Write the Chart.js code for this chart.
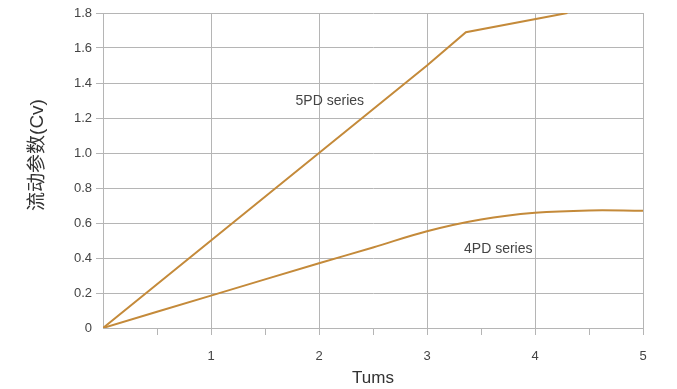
<!DOCTYPE html>
<html>
<head>
<meta charset="utf-8">
<script src="https://cdn.jsdelivr.net/npm/chart.js@4"></script>
<style>
    html, body { margin: 0; padding: 0; background: #fff; }
    #wrap { width: 677px; height: 389px; }
</style>
</head>
<body>
<div id="wrap"><canvas id="cvChart" width="677" height="389"></canvas></div>
<script>
// Turns vs flow coefficient
const turns5PD = [0, 1, 2, 3, 3.36, 4.3];
const cv5PD = [0, 0.5, 1.0, 1.5, 1.69, 1.8];

const turns4PD = [0, 1, 2, 2.5, 3, 3.5, 4, 4.5, 5];
const cv4PD = [0, 0.185, 0.37, 0.46, 0.553, 0.62, 0.658, 0.672, 0.67];

const xTickLabels = [1, 2, 3, 4, 5];
const yAxisTitle = '流动参数(Cv)';
const xAxisTitle = 'Tums';

// series labels placed in data coordinates
const seriesLabels = [
    { text: '5PD series', x: 2.1, y: 1.295 },
    { text: '4PD series', x: 3.66, y: 0.451 }
];

const FONT = "'Liberation Sans', Arial, 'Noto Sans CJK SC', sans-serif";
const GRID = '#b5b5b5';
const LINE = '#c48a3a';

function toPoints(xs, ys) {
    return xs.map((x, i) => ({ x: x, y: ys[i] }));
}

const labelPlugin = {
    id: 'labels',
    afterDraw(chart) {
        const ctx = chart.ctx;
        const xs = chart.scales.x;
        const ys = chart.scales.y;
        ctx.save();
        ctx.fillStyle = '#444';
        ctx.font = '14px ' + FONT;
        ctx.textAlign = 'center';
        ctx.textBaseline = 'middle';
        seriesLabels.forEach(l => {
            ctx.fillText(l.text, xs.getPixelForValue(l.x), ys.getPixelForValue(l.y));
        });

        // y axis title, sits a bit above the middle like the original
        ctx.translate(38, 155);
        ctx.rotate(-Math.PI / 2);
        ctx.font = '19px ' + FONT;
        ctx.fillStyle = '#333';
        ctx.fillText(yAxisTitle, 0, 0);
        ctx.restore();
    }
};

const seriesStyle = {
    borderColor: LINE,
    borderWidth: 2,
    pointRadius: 0,
    fill: false
};

new Chart(document.getElementById('cvChart').getContext('2d'), {
    type: 'line',
    data: {
        datasets: [
            { ...seriesStyle, label: '5PD series', data: toPoints(turns5PD, cv5PD), tension: 0 },
            { ...seriesStyle, label: '4PD series', data: toPoints(turns4PD, cv4PD), tension: 0.4 }
        ]
    },
    options: {
        responsive: false,
        animation: false,
        layout: { padding: { top: 13, right: 34, left: 0, bottom: 0 } },
        plugins: {
            legend: { display: false },
            tooltip: { enabled: false }
        },
        scales: {
            x: {
                type: 'linear',
                min: 0,
                max: 5,
                afterFit(scale) { scale.height = 61; },
                border: { color: GRID },
                grid: {
                    color: ctx => (ctx.tick && Number.isInteger(ctx.tick.value)) ? GRID : 'rgba(0,0,0,0)',
                    tickColor: ctx => (ctx.tick && ctx.tick.value === 0) ? 'rgba(0,0,0,0)' : GRID,
                    tickLength: 7
                },
                ticks: {
                    stepSize: 0.5,
                    autoSkip: false,
                    maxRotation: 0,
                    padding: 14,
                    color: '#444',
                    font: { family: FONT, size: 13 },
                    callback: v => xTickLabels.includes(v) ? String(v) : ''
                },
                title: {
                    display: true,
                    text: xAxisTitle,
                    color: '#333',
                    font: { family: FONT, size: 17 },
                    padding: { top: 0, bottom: 0 }
                }
            },
            y: {
                min: 0,
                max: 1.8,
                afterFit(scale) { scale.width = 103; },
                border: { color: GRID },
                grid: {
                    color: GRID,
                    tickColor: ctx => (ctx.tick && ctx.tick.value === 0) ? 'rgba(0,0,0,0)' : GRID,
                    tickLength: 7
                },
                ticks: {
                    stepSize: 0.2,
                    padding: 4,
                    color: '#444',
                    font: { family: FONT, size: 13 },
                    callback: v => v === 0 ? '0' : v.toFixed(1)
                }
            }
        }
    },
    plugins: [labelPlugin]
});
</script>
</body>
</html>
